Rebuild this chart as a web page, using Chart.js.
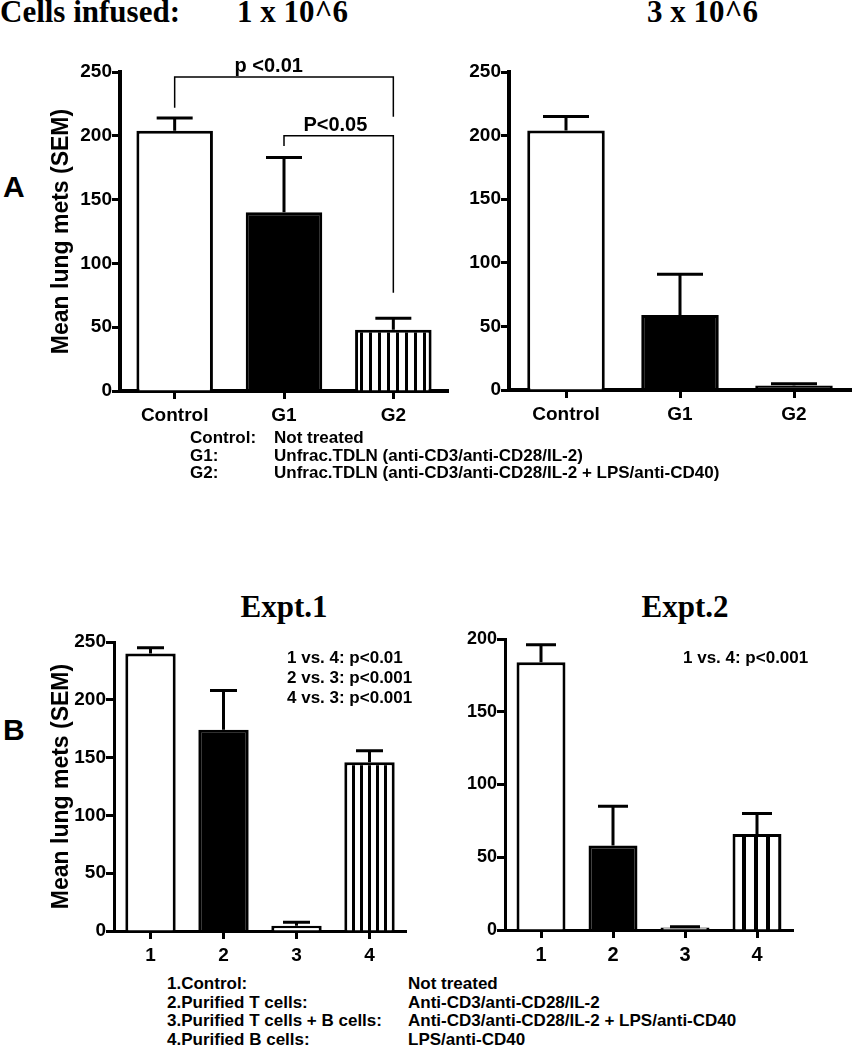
<!DOCTYPE html>
<html>
<head>
<meta charset="utf-8">
<script src="https://cdn.jsdelivr.net/npm/chart.js@4.4.1/dist/chart.umd.min.js"></script>
<style>
  body { margin: 0; background: #fff; }
  #page { position: relative; width: 854px; height: 1050px; background: #fff; overflow: hidden; }
  canvas { position: absolute; }
  .t { position: absolute; white-space: nowrap; color: #000; font-family: 'Liberation Sans', Arial, sans-serif; font-weight: bold; line-height: 1; }
  .serif { font-family: 'Liberation Serif', 'Times New Roman', serif; font-size: 31px; }
  .big { font-size: 30px; }
  .leg { font-size: 17px; }
</style>
</head>
<body>
<div id="page">
  <div class="t serif" style="left:0px;top:-4px">Cells infused:</div>
  <div class="t serif" style="left:237px;top:-4px">1 x 10^6</div>
  <div class="t serif" style="left:647px;top:-4px">3 x 10^6</div>
  <div class="t big" style="left:3px;top:172px">A</div>

  <canvas id="chartA1" width="455" height="395" style="left:0px;top:40px"></canvas>
  <canvas id="chartA3" width="454" height="395" style="left:400px;top:40px"></canvas>

  <div class="t leg" style="left:190px;top:429px">Control:</div>
  <div class="t leg" style="left:274px;top:429px">Not treated</div>
  <div class="t leg" style="left:190px;top:447px">G1:</div>
  <div class="t leg" style="left:274px;top:447px">Unfrac.TDLN (anti-CD3/anti-CD28/IL-2)</div>
  <div class="t leg" style="left:190px;top:464px">G2:</div>
  <div class="t leg" style="left:274px;top:464px">Unfrac.TDLN (anti-CD3/anti-CD28/IL-2 + LPS/anti-CD40)</div>

  <div class="t serif" style="left:184px;top:591px;width:200px;text-align:center">Expt.1</div>
  <div class="t serif" style="left:585px;top:591px;width:200px;text-align:center">Expt.2</div>
  <div class="t big" style="left:3px;top:715px">B</div>

  <canvas id="chartB1" width="420" height="370" style="left:0px;top:600px"></canvas>
  <canvas id="chartB2" width="424" height="370" style="left:430px;top:600px"></canvas>

  <div class="t leg" style="left:287px;top:649px">1 vs. 4: p&lt;0.01</div>
  <div class="t leg" style="left:287px;top:669px">2 vs. 3: p&lt;0.001</div>
  <div class="t leg" style="left:287px;top:689px">4 vs. 3: p&lt;0.001</div>
  <div class="t leg" style="left:683px;top:649px">1 vs. 4: p&lt;0.001</div>

  <div class="t leg" style="left:167px;top:975px">1.Control:</div>
  <div class="t leg" style="left:408px;top:975px">Not treated</div>
  <div class="t leg" style="left:167px;top:994px">2.Purified T cells:</div>
  <div class="t leg" style="left:408px;top:994px">Anti-CD3/anti-CD28/IL-2</div>
  <div class="t leg" style="left:167px;top:1012px">3.Purified T cells + B cells:</div>
  <div class="t leg" style="left:408px;top:1012px">Anti-CD3/anti-CD28/IL-2 + LPS/anti-CD40</div>
  <div class="t leg" style="left:167px;top:1031px">4.Purified B cells:</div>
  <div class="t leg" style="left:408px;top:1031px">LPS/anti-CD40</div>
</div>

<script>
// data
const groupsA = ['Control', 'G1', 'G2'];
const metsA1 = [204, 140, 48];
const semA1 = [10, 43, 9];
const metsA3 = [204, 59, 3.5];
const semA3 = [11, 32, 1.5];
const ticksA = [0, 50, 100, 150, 200, 250];

const groupsB = ['1', '2', '3', '4'];
const metsB1 = [240, 174, 4.5, 146];
const semB1 = [5, 34, 3, 10];
const metsB2 = [184, 58, 1.8, 66];
const semB2 = [12, 27, 0.4, 14];
const ticksB1 = [0, 50, 100, 150, 200, 250];
const ticksB2 = [0, 50, 100, 150, 200];

// significance brackets on the 1 x 10^6 panel (values in data units)
const bracketFrom = [0, 1];
const bracketTo = [2, 2];
const bracketLevel = [246, 200];
const bracketDropLeft = [222, 192];
const bracketDropRight = [215, 77];
const bracketText = ['p <0.01', 'P<0.05'];

const narrow = "'Liberation Sans Narrow', 'Arial Narrow', 'Liberation Sans', Arial, sans-serif";
const sans = "'Liberation Sans', Arial, sans-serif";

function stripes(step, lw) {
    const c = document.createElement('canvas');
    c.width = step;
    c.height = 4;
    const g = c.getContext('2d');
    g.fillStyle = '#fff';
    g.fillRect(0, 0, step, 4);
    g.fillStyle = '#000';
    g.fillRect(0, 0, lw, 4);
    return g.createPattern(c, 'repeat');
}

// upper SEM whiskers, GraphPad style
const errorBars = {
    id: 'errorBars',
    afterDatasetsDraw(chart, args, opts) {
        const ctx = chart.ctx;
        const y = chart.scales.y;
        const means = chart.data.datasets[0].data;
        ctx.save();
        ctx.strokeStyle = '#000';
        ctx.lineWidth = 3;
        chart.getDatasetMeta(0).data.forEach((bar, i) => {
            const top = y.getPixelForValue(means[i] + opts.sem[i]);
            ctx.beginPath();
            ctx.moveTo(bar.x, bar.y);
            ctx.lineTo(bar.x, top);
            ctx.moveTo(bar.x - opts.cap / 2, top);
            ctx.lineTo(bar.x + opts.cap / 2, top);
            ctx.stroke();
        });
        ctx.restore();
    }
};

const sigBrackets = {
    id: 'sigBrackets',
    afterDatasetsDraw(chart) {
        const ctx = chart.ctx;
        const x = chart.scales.x;
        const y = chart.scales.y;
        ctx.save();
        ctx.strokeStyle = '#000';
        ctx.fillStyle = '#000';
        ctx.lineWidth = 1.5;
        ctx.font = 'bold 20px ' + sans;
        ctx.textAlign = 'center';
        ctx.textBaseline = 'alphabetic';
        bracketText.forEach((txt, i) => {
            const x1 = x.getPixelForValue(bracketFrom[i]);
            const x2 = x.getPixelForValue(bracketTo[i]);
            const yl = y.getPixelForValue(bracketLevel[i]);
            ctx.beginPath();
            ctx.moveTo(x1, y.getPixelForValue(bracketDropLeft[i]));
            ctx.lineTo(x1, yl);
            ctx.lineTo(x2, yl);
            ctx.lineTo(x2, y.getPixelForValue(bracketDropRight[i]));
            ctx.stroke();
            // labels sit a little left of the bracket middle, as in the figure
            ctx.fillText(txt, x1 + (x2 - x1) * (i === 0 ? 0.43 : 0.47), yl - 5);
        });
        ctx.restore();
    }
};

function barChart(id, c) {
    return new Chart(document.getElementById(id), {
        type: 'bar',
        data: {
            labels: c.labels,
            datasets: [{
                data: c.values,
                backgroundColor: c.fills,
                borderColor: '#000',
                borderWidth: 3,
                barPercentage: c.barPct,
                categoryPercentage: 1
            }]
        },
        options: {
            responsive: false,
            animation: false,
            events: [],
            layout: { padding: c.pad },
            plugins: {
                legend: { display: false },
                tooltip: { enabled: false },
                errorBars: { sem: c.sem, cap: c.cap }
            },
            scales: {
                x: {
                    afterFit: (s) => { s.height = c.xHeight; },
                    border: { color: '#000', width: c.axisW },
                    grid: { display: true, offset: false, drawOnChartArea: false, tickLength: 8, tickWidth: 3, tickColor: '#000' },
                    ticks: { color: '#000', padding: 5, font: { family: c.xFont, size: c.xTickSize, weight: 'bold' } }
                },
                y: {
                    min: 0,
                    max: c.ticks[c.ticks.length - 1],
                    afterFit: (s) => { s.width = c.yWidth; },
                    border: { color: '#000', width: c.axisW },
                    grid: { drawOnChartArea: false, tickLength: 8, tickWidth: 3, tickColor: '#000' },
                    ticks: { color: '#000', stepSize: c.ticks[1] - c.ticks[0], padding: 0, font: { family: narrow, size: c.yTickSize, weight: 'bold' } },
                    title: {
                        display: !!c.yTitle,
                        text: c.yTitle || '',
                        color: '#000',
                        padding: { top: 48, bottom: 0 },
                        font: { family: sans, size: 23, weight: 'bold' }
                    }
                }
            }
        },
        plugins: [errorBars].concat(c.extra || [])
    });
}

const chartA1 = barChart('chartA1', {
    labels: groupsA, values: metsA1, sem: semA1, ticks: ticksA,
    fills: ['#fff', '#000', stripes(9, 3)],
    barPct: 0.7, cap: 36, axisW: 4,
    pad: { top: 32, right: 7, bottom: 0, left: 0 }, yWidth: 120, xHeight: 44,
    xFont: narrow, xTickSize: 19, yTickSize: 19, yTitle: 'Mean lung mets (SEM)',
    extra: [sigBrackets]
});

const chartA3 = barChart('chartA3', {
    labels: groupsA, values: metsA3, sem: semA3, ticks: ticksA,
    fills: ['#fff', '#000', '#000'],
    barPct: 0.68, cap: 46, axisW: 4,
    pad: { top: 32, right: 3, bottom: 0, left: 0 }, yWidth: 109, xHeight: 45,
    xFont: narrow, xTickSize: 19, yTickSize: 19
});

const chartB1 = barChart('chartB1', {
    labels: groupsB, values: metsB1, sem: semB1, ticks: ticksB1,
    fills: ['#fff', '#000', '#fff', stripes(8, 3)],
    barPct: 0.69, cap: 27, axisW: 3,
    pad: { top: 42, right: 14, bottom: 0, left: 0 }, yWidth: 114, xHeight: 39,
    xFont: narrow, xTickSize: 19, yTickSize: 19, yTitle: 'Mean lung mets (SEM)'
});

const chartB2 = barChart('chartB2', {
    labels: groupsB, values: metsB2, sem: semB2, ticks: ticksB2,
    fills: ['#fff', '#000', '#fff', stripes(12, 4)],
    barPct: 0.68, cap: 30, axisW: 3,
    pad: { top: 39, right: 61, bottom: 0, left: 0 }, yWidth: 75, xHeight: 40,
    xFont: sans, xTickSize: 20, yTickSize: 18
});
</script>
</body>
</html>
